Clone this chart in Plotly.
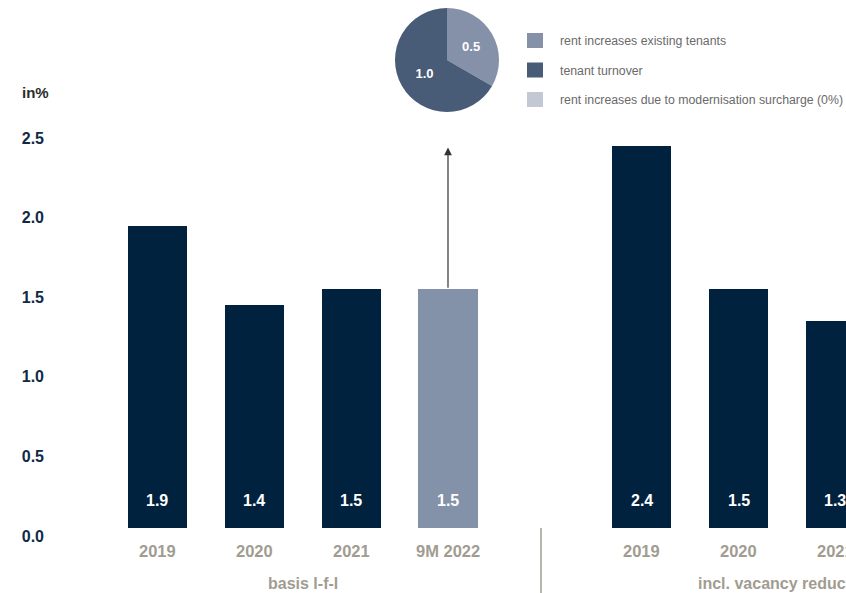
import plotly.graph_objects as go

# ---------------- data ----------------
group1_categories = ["2019", "2020", "2021", "9M 2022"]
group1_values = [1.9, 1.4, 1.5, 1.5]
group1_title = "basis l-f-l"

group2_categories = ["2019", "2020", "2021"]
group2_values = [2.4, 1.5, 1.3]
group2_title = "incl. vacancy reduction"

pie_labels = ["rent increases existing tenants", "tenant turnover",
              "rent increases due to modernisation surcharge (0%)"]
pie_values = [0.5, 1.0, 0.0]

y_ticks = [0.0, 0.5, 1.0, 1.5, 2.0, 2.5]
y_title = "in%"

# ---------------- style ----------------
W, H = 846, 593
ML, MR, MT, MB = 50, 0, 0, 65
PW, PH = W - ML - MR, H - MT - MB
NAVY = "#00223e"
LIGHT = "#8492a9"
PIE_DARK = "#485b77"
PIE_LIGHT = "#8491a8"
PIE_PALE = "#c2c8d4"
GREY = "#a19c91"
FONT = "Liberation Sans"

x_range = [-1.11, 7.11]
y_range = [0, 3.317]


def px2x(px):
    return (px - ML) / PW


def py2y(py):
    return 1 - (py - MT) / PH


x1 = list(range(len(group1_categories)))
x2 = [len(group1_categories) + 1 + i for i in range(len(group2_categories))]

fig = go.Figure()
fig.add_trace(go.Bar(
    x=x1, y=group1_values, width=0.61,
    marker=dict(color=[NAVY] * (len(x1) - 1) + [LIGHT], line=dict(width=0)),
    hoverinfo="skip", showlegend=False))
fig.add_trace(go.Bar(
    x=x2, y=group2_values, width=0.61,
    marker=dict(color=NAVY, line=dict(width=0)),
    hoverinfo="skip", showlegend=False))

fig.add_trace(go.Pie(
    labels=pie_labels, values=pie_values, sort=False, direction="clockwise",
    rotation=0, marker=dict(colors=[PIE_LIGHT, PIE_DARK, PIE_PALE], line=dict(width=0)),
    texttemplate="%{value:.1f}", textposition="inside",
    textfont=dict(family=FONT, size=13, color="white", weight="bold"),
    domain=dict(x=[px2x(395), px2x(499)], y=[py2y(112), py2y(8)]),
    showlegend=False, hoverinfo="skip"))

annotations = []
for xs, vals, cats in ((x1, group1_values, group1_categories),
                       (x2, group2_values, group2_categories)):
    for xv, v, c in zip(xs, vals, cats):
        annotations.append(dict(
            x=xv, y=0, xref="x", yref="y", yshift=28, text=f"{v:.1f}",
            showarrow=False, yanchor="middle",
            font=dict(family=FONT, size=16, color="white", weight="bold")))
        annotations.append(dict(
            x=xv, y=0, xref="x", yref="paper", yshift=-23, text=c,
            showarrow=False, yanchor="middle",
            font=dict(family=FONT, size=16.5, color=GREY, weight="bold")))

annotations.append(dict(
    x=sum(x1) / len(x1), y=0, xref="x", yref="paper", yshift=-55,
    text=group1_title, showarrow=False, yanchor="middle",
    font=dict(family=FONT, size=16, color=GREY, weight="bold")))
annotations.append(dict(
    x=(x2[0] + x2[-1] + 1) / 2, y=0, xref="x", yref="paper", yshift=-55,
    text=group2_title, showarrow=False, yanchor="middle",
    font=dict(family=FONT, size=16, color=GREY, weight="bold")))

annotations.append(dict(
    x=px2x(20), y=py2y(92), xref="paper", yref="paper", text=y_title,
    showarrow=False, xanchor="left", yanchor="middle",
    font=dict(family=FONT, size=15, color="#2b2b2b", weight="bold")))

# arrow from last bar of group 1 to the pie
annotations.append(dict(
    x=x1[-1], y=2.39, xref="x", yref="y", ax=x1[-1], ay=group1_values[-1],
    axref="x", ayref="y", text="", showarrow=True, arrowhead=2,
    arrowsize=1.3, arrowwidth=1.2, arrowcolor="#333333"))

shapes = []
leg_colors = [PIE_LIGHT, PIE_DARK, PIE_PALE]
for i, (lab, col) in enumerate(zip(pie_labels, leg_colors)):
    top = 33 + 29.5 * i
    shapes.append(dict(type="rect", xref="paper", yref="paper",
                       x0=px2x(527), x1=px2x(543), y0=py2y(top + 15), y1=py2y(top),
                       fillcolor=col, line=dict(width=0)))
    annotations.append(dict(
        x=px2x(558), y=py2y(top + 8), xref="paper", yref="paper", text=lab,
        showarrow=False, xanchor="left", yanchor="middle",
        font=dict(family=FONT, size=12.3, color="#6a6a6a")))

# group separator
shapes.append(dict(type="line", xref="paper", yref="paper",
                   x0=px2x(541), x1=px2x(541), y0=0, y1=py2y(H),
                   line=dict(color=GREY, width=1.5)))

fig.update_layout(
    width=W, height=H,
    margin=dict(l=ML, r=MR, t=MT, b=MB),
    plot_bgcolor="white", paper_bgcolor="white",
    bargap=0,
    annotations=annotations, shapes=shapes,
    xaxis=dict(range=x_range, showticklabels=False,
               showgrid=False, zeroline=False, showline=False, ticks=""),
    yaxis=dict(range=y_range, tickmode="array", tickvals=y_ticks,
               ticktext=[f"{t:.1f}" for t in y_ticks],
               showgrid=False, zeroline=False, showline=False, ticks="",
               ticklabelstandoff=5, ticklabelshift=8,
               tickfont=dict(family=FONT, size=16, color="#0f2a47", weight="bold")),
)

fig.write_html("out.html")
